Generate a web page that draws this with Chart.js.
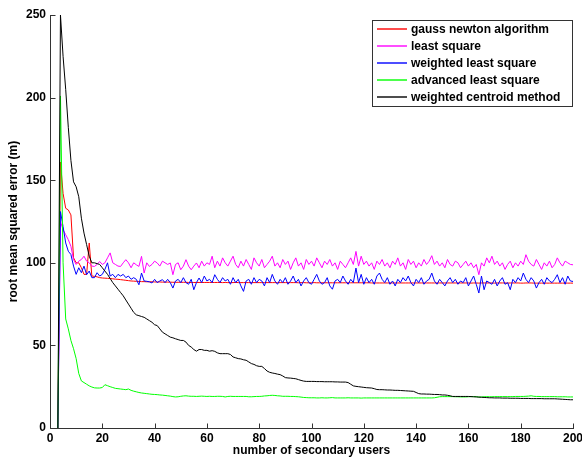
<!DOCTYPE html>
<html><head><meta charset="utf-8">
<script src="https://cdn.jsdelivr.net/npm/chart.js@4"></script>
<style>html,body{margin:0;padding:0;background:#fff;}canvas{display:block;}</style>
</head><body>
<canvas id="c" width="582" height="464"></canvas>
<script>
// number of secondary users starts at 3 for every series
const FIRST_USERS = 3;
const xTickValues = [0, 20, 40, 60, 80, 100, 120, 140, 160, 180, 200];
const yTickValues = [0, 50, 100, 150, 200, 250];
const seriesNames = ['gauss newton algorithm', 'least square', 'weighted least square', 'advanced least square', 'weighted centroid method'];
const seriesColors = ['#ff0000', '#ff00ff', '#0000ff', '#00ff00', '#000000'];

const gaussNewton = [
  0, 161, 142, 133, 132, 129, 103, 100, 100, 97,
  93, 93, 112, 92, 91.8, 91.5, 91, 90.8, 90.7, 90.6,
  90.5, 90.3, 90.1, 90, 89.8, 89.6, 89.4, 89.2, 89, 88.9,
  88.8, 88.7, 88.6, 88.6, 88.5, 88.5, 88.5, 88.4, 88.4, 88.4,
  88.3, 88.3, 88.3, 88.3, 88.2, 88.2, 88.2, 88.2, 88.2, 88.2,
  88.1, 88.1, 88.1, 88.1, 88.1, 88.1, 88.1, 88.1, 88.1, 88.1,
  88.1, 88.1, 88.1, 88, 88.1, 88, 88, 88, 88.1, 88,
  88, 88, 88, 88, 88, 88, 88, 88, 88, 88,
  88, 88, 88, 88, 88, 88, 88, 88, 88, 88,
  88, 88, 87.9, 88, 88, 87.9, 87.9, 87.9, 88, 87.9,
  87.9, 87.9, 87.9, 87.9, 87.9, 87.9, 87.9, 87.9, 87.9, 87.9,
  87.9, 87.9, 87.9, 87.9, 87.9, 87.9, 87.9, 87.9, 87.9, 87.9,
  87.8, 87.8, 87.8, 87.8, 87.8, 87.8, 87.8, 87.8, 87.8, 87.8,
  87.8, 87.8, 87.8, 87.8, 87.8, 87.8, 87.8, 87.8, 87.8, 87.8,
  87.8, 87.8, 87.8, 87.8, 87.8, 87.8, 87.8, 87.8, 87.8, 87.8,
  87.8, 87.8, 87.8, 87.8, 87.8, 87.8, 87.8, 87.8, 87.7, 87.8,
  87.8, 87.7, 87.8, 87.8, 87.8, 87.8, 87.8, 87.7, 87.8, 87.8,
  87.8, 87.8, 87.7, 87.8, 87.8, 87.8, 87.8, 87.7, 87.7, 87.8,
  87.8, 87.8, 87.7, 87.7, 87.7, 87.7, 87.7, 87.7, 87.7, 87.7,
  87.7, 87.7, 87.7, 87.7, 87.7, 87.7, 87.7, 87.7
];

const leastSquare = [
  0, 125, 120, 117, 114, 110, 102, 99, 101, 102,
  104, 101, 100, 98, 97.8, 99, 100.8, 99, 100, 103,
  106, 100, 99, 98, 97.8, 100, 101.9, 100, 97, 100,
  98.8, 97.8, 103.9, 93.8, 100, 97.8, 99, 101, 99.9, 98,
  101, 100, 99, 99.9, 92.8, 99, 100, 95.8, 98, 101.9,
  98, 95.8, 98, 99.9, 97, 101, 98, 100, 99, 104,
  97, 101, 98, 103, 100, 98, 101, 104, 99, 97,
  101, 98, 102, 99, 96, 103, 100, 98, 102, 97,
  99, 101, 104, 98, 100, 97, 102, 99, 101, 96,
  100, 103, 98, 100, 96, 102, 99, 101, 98, 103,
  100, 97, 101, 99, 102, 98, 100, 96, 101, 99,
  97, 100, 103, 99, 106.9, 98, 104, 99, 101, 98,
  100, 96, 101, 99, 102, 98, 100, 97, 101, 99,
  103, 98, 100, 96, 102, 99, 101, 97, 100, 98,
  102, 99, 101, 104.3, 99, 101, 98, 100, 97, 102,
  99, 98, 101, 100, 97, 99, 101, 98, 100, 97,
  99, 92.8, 100, 98, 103, 100, 104, 99, 101, 98,
  100, 96, 99, 101, 97, 100, 98, 101, 99, 104.9,
  101, 99, 98, 102, 99, 96, 100, 98, 101, 97,
  99, 103, 100, 98, 101, 100, 99, 98.8
];

const weightedLeastSquare = [
  0, 131, 122, 112, 107, 105, 98, 93, 97, 94,
  98, 92.8, 95, 91, 91, 94, 92, 93, 96, 100,
  92, 93, 91, 93, 92, 93, 91, 92, 90, 91,
  90, 86.7, 93.8, 89, 88.8, 88.5, 87.8, 90, 88, 89,
  89.8, 88, 90, 88, 84.7, 89, 90, 88, 91, 88,
  87, 90, 83.7, 88, 90.8, 88, 92, 89, 90, 88,
  92.8, 90, 88, 91, 89, 90, 87, 91, 88, 90,
  86, 82.7, 89, 90, 87, 91, 88, 90, 89, 86,
  91, 88, 93, 89, 87, 90, 88, 91, 87, 89,
  92, 88, 90, 86, 89, 91, 88, 87, 90, 93,
  89, 87, 88, 91, 86, 84, 89, 90, 88, 92,
  89, 87, 90, 88, 96.8, 88, 93, 87, 91, 88,
  90, 87, 92, 93.8, 90, 88, 91, 87, 89, 86,
  90, 88, 91, 89, 92, 88, 86, 90, 88, 91,
  87, 89, 90, 93.8, 89, 87, 90, 88, 86, 89,
  91, 88, 90, 87, 89, 88, 91, 86, 89, 92,
  87, 81.7, 92, 83.7, 89, 88, 87, 90, 86, 89,
  91, 87, 88, 83.7, 90, 88, 91, 89, 93.8, 90,
  88, 91, 89, 84.7, 88, 90, 87, 91, 89, 88,
  90, 92.8, 88, 91, 87, 92, 89, 88.7
];

const advancedLeastSquare = [
  0, 201, 100, 66, 60, 53, 48, 42, 33, 28.5,
  27.5, 26.5, 25.5, 24.8, 24.3, 24.2, 24.2, 24.5, 26.2, 25.6,
  25, 24.5, 24, 23.8, 23.6, 23.4, 23.2, 23.6, 22.8, 22.3,
  21.9, 21.5, 21.2, 21, 20.8, 20.6, 20.4, 20.3, 20.2, 20,
  19.9, 19.7, 19.5, 19.3, 19, 18.8, 18.9, 19.2, 19.4, 19.5,
  19.3, 19.2, 19.2, 19.1, 19.2, 19.3, 19.2, 19.1, 19.2, 19.1,
  19.1, 19.2, 19.2, 19.1, 18.8, 19.1, 19.2, 19.1, 19.1, 19.1,
  19.1, 19.1, 19.1, 18.9, 18.9, 19, 19.1, 19.1, 19.2, 19.4,
  19.5, 19.7, 19.8, 19.7, 19.5, 19.4, 19.2, 19.2, 19.2, 19.1,
  19.1, 19, 18.9, 18.7, 18.5, 18.4, 18.3, 18.3, 18.3, 18.2,
  18.2, 18.3, 18.2, 18.2, 18.3, 18.4, 18.2, 18.2, 18.2, 18.2,
  18.2, 18.3, 18.2, 18.2, 18.2, 18.2, 18.1, 18.2, 18.2, 18.2,
  18.2, 18.2, 18.2, 18.2, 18.2, 18.2, 18.2, 18.2, 18.2, 18.2,
  18.2, 18.2, 18.2, 18.2, 18.2, 18.2, 18.2, 18.2, 18.2, 18.2,
  18.2, 18.2, 18.2, 18.2, 18.3, 18.6, 18.9, 19, 19, 19,
  19, 19, 18.9, 18.9, 18.8, 18.8, 18.8, 18.9, 19, 19,
  19, 18.7, 18.8, 18.9, 19, 18.9, 18.9, 19, 19, 19,
  19, 19, 19, 19, 19, 19.1, 19.1, 19.1, 19.1, 19.2,
  19.3, 19.5, 19.2, 19.1, 19.1, 19, 19, 19, 19, 19,
  19, 18.9, 18.9, 18.9, 18.9, 18.8, 18.8, 18.8
];

const weightedCentroid = [
  0, 250, 225, 205, 182, 162, 149, 146, 140, 127,
  118, 111, 104, 100, 100, 99.5, 99, 97, 95, 93,
  90.5, 88, 86, 84, 82, 80, 77.5, 75, 72.5, 70,
  68.5, 68, 67.5, 67, 66, 65, 64, 62.5, 62, 60,
  58, 57, 56, 55, 54.6, 54, 53.5, 53, 53, 52,
  50, 49, 47.5, 46.5, 47.5, 47.5, 47, 47, 46.5, 46.8,
  46.4, 45.5, 45, 45, 45, 45, 44.5, 43, 42.5, 42,
  41.8, 41.3, 41, 40, 39, 38.5, 37.7, 37.3, 37.3, 36,
  34.5, 33.7, 33.3, 33, 32.6, 32.3, 31.5, 30.5, 30.3, 30.2,
  30, 29.8, 29.3, 28.8, 28.4, 28.2, 28.2, 28.2, 28.2, 28.1,
  28.1, 28.1, 28, 28, 28, 28, 27.9, 27.9, 27.8, 27.8,
  27.8, 27.5, 26.5, 25.5, 25.2, 25, 24.8, 24.6, 24.4, 24.3,
  24.2, 23.8, 23.3, 23.2, 23.2, 23.1, 23, 23, 22.9, 22.8,
  22.8, 22.7, 22.6, 22.5, 22.4, 22.3, 22.2, 21.5, 20.8, 20.6,
  20.6, 20.5, 20.5, 20.4, 20.3, 20.3, 20.2, 20, 20, 19.8,
  19.5, 19.1, 19.1, 19.1, 19.1, 19.1, 19.1, 19.1, 19, 18.9,
  18.8, 18.7, 18.6, 18.5, 18.4, 18.3, 18.3, 18.2, 18.2, 18.2,
  18.1, 18.1, 18.1, 18, 18, 18, 18, 17.9, 17.9, 17.9,
  17.9, 17.8, 17.8, 17.8, 17.8, 17.8, 17.7, 17.7, 17.7, 17.7,
  17.7, 17.6, 17.5, 17.4, 17.3, 17.2, 17.1, 17.1
];

const seriesValues = [gaussNewton, leastSquare, weightedLeastSquare, advancedLeastSquare, weightedCentroid];

function toPoints(vals) { return vals.map((v, i) => ({ x: FIRST_USERS + i, y: v })); }

const FONT = 'Liberation Sans, Arial, Helvetica, sans-serif';

const datasets = seriesNames.map((name, i) => ({
  label: name,
  data: toPoints(seriesValues[i]),
  borderColor: seriesColors[i],
  backgroundColor: seriesColors[i],
  borderWidth: 1,
  pointRadius: 0,
  tension: 0,
  fill: false,
  order: seriesNames.length - i
}));

const axesPlugin = {
  id: 'axesPlugin',
  beforeDatasetsDraw(chart) {
    const { ctx, chartArea: a, scales: { x, y } } = chart;
    ctx.save();
    ctx.strokeStyle = '#333';
    ctx.lineWidth = 1;
    ctx.beginPath();
    const lx = Math.round(a.left) + 0.5, by = Math.round(a.bottom) + 0.5;
    ctx.moveTo(lx, Math.round(a.top));
    ctx.lineTo(lx, by);
    ctx.lineTo(Math.round(a.right) + 1, by);
    x.ticks.forEach(t => {
      const px = Math.round(x.getPixelForValue(t.value)) + 0.5;
      ctx.moveTo(px, by); ctx.lineTo(px, by - 5);
    });
    y.ticks.forEach(t => {
      const py = Math.round(y.getPixelForValue(t.value)) + 0.5;
      ctx.moveTo(lx, py); ctx.lineTo(lx + 5, py);
    });
    ctx.stroke();
    ctx.restore();
  },
  afterDraw(chart) {
    const { ctx } = chart;
    const bx = 372.5, btop = 20.5, bw = 200, bh = 86;
    ctx.save();
    ctx.fillStyle = '#fff';
    ctx.fillRect(bx, btop, bw, bh);
    ctx.strokeStyle = '#333';
    ctx.lineWidth = 1;
    ctx.strokeRect(bx, btop, bw, bh);
    ctx.font = 'bold 12px ' + FONT;
    ctx.textBaseline = 'middle';
    ctx.textAlign = 'left';
    seriesNames.forEach((name, i) => {
      const ry = 29 + i * 17;
      ctx.strokeStyle = seriesColors[i];
      ctx.lineWidth = 1.4;
      ctx.beginPath();
      ctx.moveTo(377, ry); ctx.lineTo(407, ry);
      ctx.stroke();
      ctx.fillStyle = '#000';
      ctx.fillText(name, 411, ry + 0.5);
    });
    ctx.restore();
  }
};

new Chart(document.getElementById('c'), {
  type: 'line',
  data: { datasets },
  plugins: [axesPlugin],
  options: {
    responsive: false,
    animation: false,
    events: [],
    layout: { padding: { top: 15, right: 9, bottom: 0, left: 0 } },
    plugins: { legend: { display: false }, tooltip: { enabled: false } },
    scales: {
      x: {
        type: 'linear', position: 'bottom', min: 0, max: 200,
        afterBuildTicks: s => { s.ticks = xTickValues.map(v => ({ value: v })); },
        grid: { display: false, drawTicks: false },
        border: { display: false },
        ticks: { color: '#000', font: { family: FONT, size: 12, weight: 'bold' }, padding: 3, maxRotation: 0, autoSkip: false },
        title: { display: true, text: 'number of secondary users', color: '#000', font: { family: FONT, size: 12, weight: 'bold' }, padding: { top: 0, bottom: 6 } },
        afterFit: s => { s.height = 36; s.paddingLeft = 0; s.paddingRight = 0; }
      },
      y: {
        type: 'linear', position: 'left', min: 0, max: 250,
        afterBuildTicks: s => { s.ticks = yTickValues.map(v => ({ value: v })); },
        grid: { display: false, drawTicks: false },
        border: { display: false },
        ticks: { color: '#000', font: { family: FONT, size: 12, weight: 'bold' }, padding: 4, autoSkip: false },
        title: { display: true, text: 'root mean squared error (m)', color: '#000', font: { family: FONT, size: 12, weight: 'bold' }, padding: { top: 6, bottom: 0 } },
        afterFit: s => { s.width = 50; s.paddingTop = 0; s.paddingBottom = 0; }
      }
    }
  }
});
</script>
</body></html>
